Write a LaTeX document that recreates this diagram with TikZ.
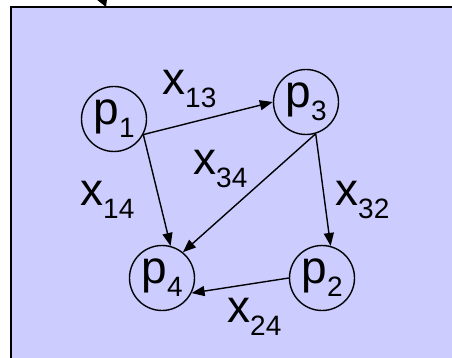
\documentclass[tikz,border=0pt]{standalone}
\usepackage{fontspec}
\setmainfont{Liberation Sans}
\usetikzlibrary{arrows.meta}
\definecolor{bgblue}{HTML}{CCCCFF}
\newcommand{\lbl}[2]{#1\raisebox{-13pt}{\fontsize{28}{28}\selectfont #2}}
\tikzset{
  pnode/.style={circle,draw=black,line width=1.4pt,minimum size=65pt,inner sep=0pt,
    font=\fontsize{46}{46}\selectfont},
  xlabel/.style={anchor=base west,inner sep=0pt,font=\fontsize{46}{46}\selectfont},
  edge/.style={line width=1.4pt,-{Triangle[length=13pt,width=10pt]}}
}
\begin{document}
\begin{tikzpicture}[x=1pt,y=-1pt]
\clip (0,0) rectangle (452,358);
\useasboundingbox (0,0) rectangle (452,358);
\draw[fill=bgblue,line width=2pt] (11,7) rectangle (480,390);
\fill (96,-1) -- (107,-1) -- (106,7) -- cycle;
\node[pnode] (p1) at (114,119) {\lbl{p}{1}};
\node[pnode] (p3) at (306,102) {\lbl{p}{3}};
\node[pnode] (p4) at (162,278) {\lbl{p}{4}};
\node[pnode] (p2) at (322,278) {\lbl{p}{2}};
\draw[edge] (p1.-28) -- (p3.180);
\draw[edge] (p1.-28) -- (p4.75);
\draw[edge] (p3.-73) -- (p4.51);
\draw[edge] (p3.-73) -- (p2.75);
\draw[edge] (p2.180) -- (p4.-27);
\node[xlabel] (l13) at (162,95) {\lbl{x}{13}};
\node[xlabel] (l34) at (193,175) {\lbl{x}{34}};
\node[xlabel] (l14) at (80,205) {\lbl{x}{14}};
\node[xlabel] (l32) at (335,205) {\lbl{x}{32}};
\node[xlabel] (l24) at (227,322) {\lbl{x}{24}};
\end{tikzpicture}
\end{document}
